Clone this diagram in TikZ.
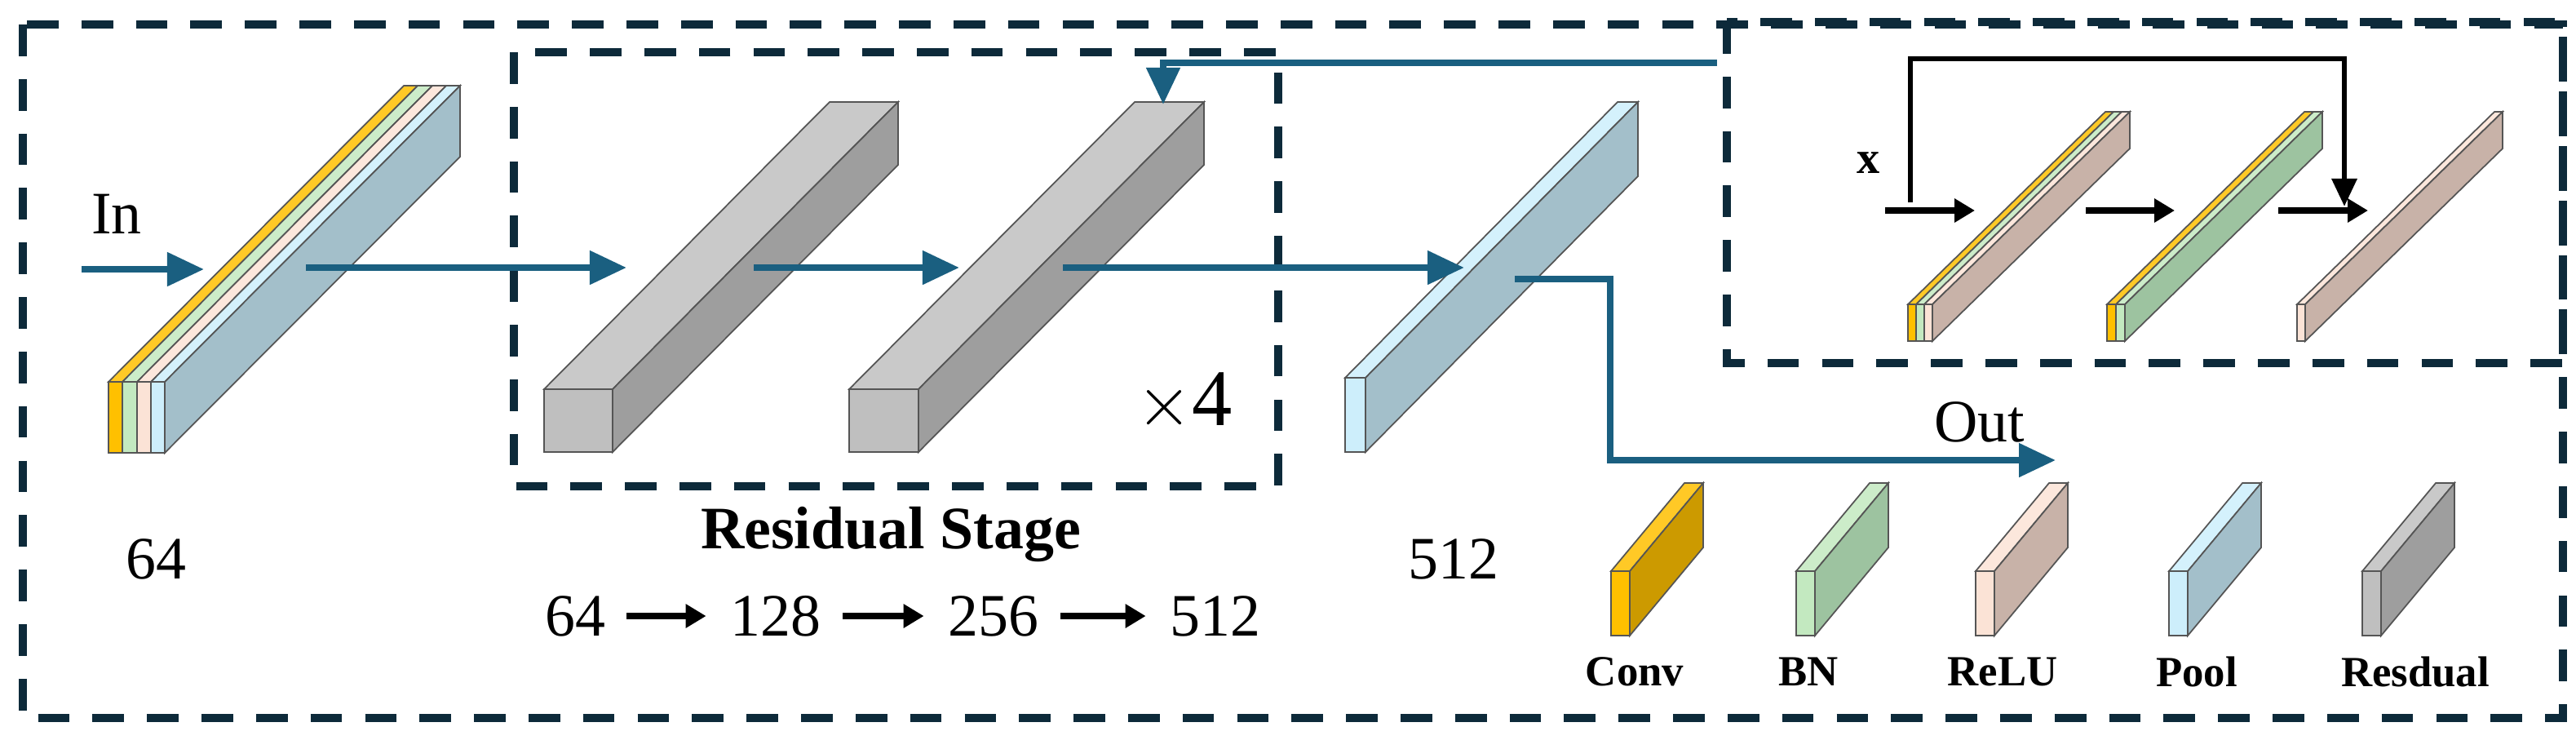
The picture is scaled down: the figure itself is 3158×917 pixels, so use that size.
\documentclass[tikz,border=0pt]{standalone}
\usepackage{fontspec}
\setmainfont{Liberation Serif}
\usetikzlibrary{arrows.meta}
\definecolor{edge}{HTML}{555555}
\definecolor{dsh}{HTML}{0D2A3A}
\definecolor{blu}{HTML}{1A5F80}
\definecolor{convF}{HTML}{FFC000}\definecolor{convS}{HTML}{CC9A00}
\definecolor{bnF}{HTML}{C3E9C0}\definecolor{bnS}{HTML}{9DC3A0}
\definecolor{reF}{HTML}{FBE3D6}\definecolor{reS}{HTML}{C8B2A8}
\definecolor{poF}{HTML}{CDEEFB}\definecolor{poS}{HTML}{A3BFCA}
\definecolor{grF}{HTML}{BFBFBF}\definecolor{grS}{HTML}{9E9E9E}
% strip: a b ytop h dx dy color
\newcommand\mystrip[7]{\filldraw[draw=edge,line width=0.5pt,fill=#7] (#1,#3) rectangle (#2,#3+#4);
 \filldraw[draw=edge,line width=0.5pt,fill=#7!85!white] (#1,#3) -- (#2,#3) -- (#2+#5,#3+#6) -- (#1+#5,#3+#6) -- cycle;}
% side: x1 ytop h dx dy color
\newcommand\myside[6]{\filldraw[draw=edge,line width=0.5pt,fill=#6] (#1,#2) -- (#1,#2+#3) -- (#1+#4,#2+#3+#5) -- (#1+#4,#2+#5) -- cycle;}
\begin{document}
\begin{tikzpicture}[x=0.01cm,y=-0.01cm,
  dbox/.style={draw=dsh,line width=2.6pt,dash pattern=on 11pt off 8pt},
  barrow/.style={draw=blu,line width=2.3pt,-{Triangle[length=0.45cm,width=0.4cm]}},
  karrow/.style={draw=black,line width=2.2pt,-{Triangle[length=0.25cm,width=0.28cm]}},
  lbl/.style={font=\fontsize{21}{24}\selectfont},
  leg/.style={font=\bfseries\fontsize{15}{18}\selectfont}]
\useasboundingbox (0,0) rectangle (3158,917);
% outer and inner boxes
\draw[dbox] (28,30) rectangle (3142,880);
\draw[dbox] (630,64) rectangle (1567,596);
\draw[dbox] (2117,27) rectangle (3142,445);
% left block
\mystrip{133}{150}{468}{87}{362}{-363}{convF}
\mystrip{150}{168}{468}{87}{362}{-363}{bnF}
\mystrip{168}{185}{468}{87}{362}{-363}{reF}
\mystrip{185}{202}{468}{87}{362}{-363}{poF}
\myside{202}{468}{87}{362}{-363}{poS}
% gray blocks
\mystrip{667}{751}{477}{77}{350}{-352}{grF}
\myside{751}{477}{77}{350}{-352}{grS}
\mystrip{1041}{1126}{477}{77}{350}{-352}{grF}
\myside{1126}{477}{77}{350}{-352}{grS}
% pool block
\mystrip{1649}{1674}{463}{91}{334}{-338}{poF}
\myside{1674}{463}{91}{334}{-338}{poS}
% inset slabs
\mystrip{2339}{2349}{373}{45}{242}{-236}{convF}
\mystrip{2349}{2359}{373}{45}{242}{-236}{bnF}
\mystrip{2359}{2369}{373}{45}{242}{-236}{reF}
\myside{2369}{373}{45}{242}{-236}{reS}
\mystrip{2583}{2594}{373}{45}{242}{-236}{convF}
\mystrip{2594}{2605}{373}{45}{242}{-236}{bnF}
\myside{2605}{373}{45}{242}{-236}{bnS}
\mystrip{2816}{2826}{373}{45}{242}{-236}{reF}
\myside{2826}{373}{45}{242}{-236}{reS}
% legend slabs
\mystrip{1975}{1998}{700}{79}{90}{-108}{convF}\myside{1998}{700}{79}{90}{-108}{convS}
\mystrip{2202}{2225}{700}{79}{90}{-108}{bnF}\myside{2225}{700}{79}{90}{-108}{bnS}
\mystrip{2422}{2445}{700}{79}{90}{-108}{reF}\myside{2445}{700}{79}{90}{-108}{reS}
\mystrip{2659}{2682}{700}{79}{90}{-108}{poF}\myside{2682}{700}{79}{90}{-108}{poS}
\mystrip{2896}{2919}{700}{79}{90}{-108}{grF}\myside{2919}{700}{79}{90}{-108}{grS}
\node[leg] (g1) at (2004,823) {Conv};
\node[leg] (g2) at (2217,823) {BN};
\node[leg] (g3) at (2455,823) {ReLU};
\node[leg] (g4) at (2693,823) {Pool};
\node[leg] (g5) at (2961,823) {Resdual};
% coordinates
\coordinate (in0) at (100,330); \coordinate (in1) at (250,330);
\coordinate (a0) at (375,328); \coordinate (a1) at (768,328);
\coordinate (b0) at (924,328); \coordinate (b1) at (1176,328);
\coordinate (c0) at (1303,328); \coordinate (c1) at (1795,328);
\coordinate (o0) at (1857,342); \coordinate (o1) at (2520,564);
\coordinate (f0) at (2105,77); \coordinate (f1) at (1426,128);
% blue arrows
\draw[barrow] (in0) -- (in1);
\draw[barrow] (a0) -- (a1);
\draw[barrow] (b0) -- (b1);
\draw[barrow] (c0) -- (c1);
\draw[barrow] (o0) -- (1974,342) |- (o1);
\draw[barrow] (f0) -| (f1);
% inset arrows
\coordinate (x0) at (2311,258); \coordinate (x1) at (2421,258);
\coordinate (y0) at (2557,258); \coordinate (y1) at (2666,258);
\coordinate (z0) at (2793,258); \coordinate (z1) at (2903,258);
\draw[karrow] (x0) -- (x1);
\draw[karrow] (y0) -- (y1);
\draw[karrow] (z0) -- (z1);
\coordinate (l0) at (2342,248); \coordinate (l1) at (2874,253);
\draw[line width=1.8pt,-{Triangle[length=0.34cm,width=0.3cm]}] (l0) |- (2874,72) -- (l1);
\node[font=\bfseries\fontsize{16}{18}\selectfont] (xl) at (2291,200) {x};
% texts
\node[lbl] (tin) at (143,262) {In};
\node[lbl] (t64) at (191,685) {64};
\node[font=\bfseries\fontsize{21}{24}\selectfont] (trs) at (1092,655) {Residual Stage};
\node[font=\fontsize{28}{32}\selectfont] (tx4) at (1452,493) {$\times$4};
\node[lbl] (t512) at (1782,685) {512};
\node[lbl] (tout) at (2427,517) {Out};
\node[lbl] (s1) at (705,755) {64};
\node[lbl] (s2) at (951,755) {128};
\node[lbl] (s3) at (1218,755) {256};
\node[lbl] (s4) at (1490,755) {512};
\draw[karrow,shorten <=4pt,shorten >=5pt] (s1) -- (s2);
\draw[karrow,shorten <=4pt,shorten >=5pt] (s2) -- (s3);
\draw[karrow,shorten <=4pt,shorten >=5pt] (s3) -- (s4);
\end{tikzpicture}
\end{document}
